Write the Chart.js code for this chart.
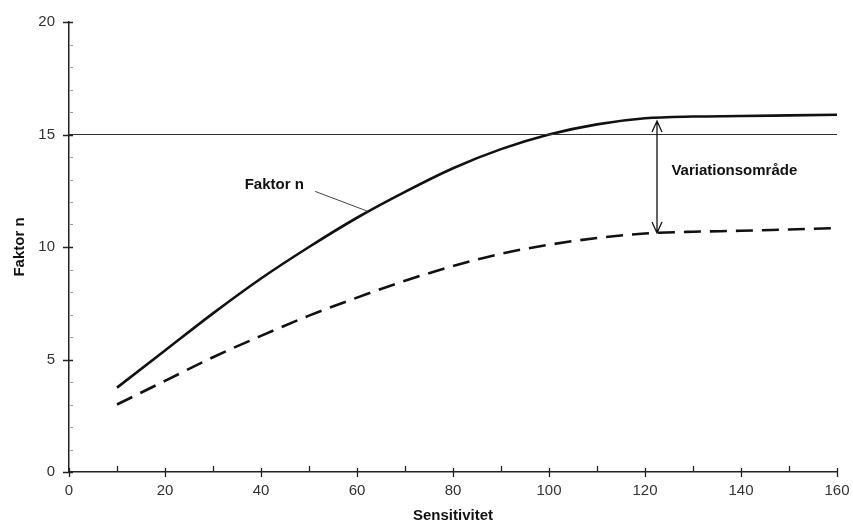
<!DOCTYPE html>
<html>
<head>
<meta charset="utf-8">
<title>Faktor n</title>
<script src="https://cdn.jsdelivr.net/npm/chart.js@4/dist/chart.umd.min.js"></script>
<style>
  html, body { margin: 0; padding: 0; background: #fff; }
  #wrap { width: 853px; height: 525px; position: relative; }
</style>
</head>
<body>
<div id="wrap"><canvas id="chart"></canvas></div>
<script>
// Sensitivity values along the x axis
const sensitivitet = [10, 20, 30, 40, 50, 60, 70, 80, 90, 100, 110, 120, 130, 140, 150, 160];
// Upper bound of factor n (solid curve)
const faktorOevre = [3.75, 5.4, 7.05, 8.6, 10.0, 11.3, 12.45, 13.5, 14.35, 15.0, 15.45, 15.72, 15.8, 15.82, 15.85, 15.88];
// Lower bound of factor n (dashed curve)
const faktorNedre = [3.0, 4.05, 5.1, 6.05, 6.95, 7.75, 8.5, 9.15, 9.7, 10.1, 10.4, 10.6, 10.68, 10.72, 10.78, 10.84];
// Reference level
const graense = 15;
const graenseX = [0, 160];
// Variation range marker: x position, upper and lower value
const omraadeX = 122.5;
const omraadeOevre = 15.6;
const omraadeNedre = 10.62;

const xTicks = [0, 20, 40, 60, 80, 100, 120, 140, 160];
const yTicks = [0, 5, 10, 15, 20];

const toPoints = (xs, ys) => xs.map((x, i) => ({ x: x, y: ys[i] }));

const FONT = "'Liberation Sans', Arial, Helvetica, sans-serif";

// Axis tick marks: major ticks cross the axis line, minor ticks sit inside
const tickMarks = {
  id: 'tickMarks',
  afterDraw(chart) {
    const { ctx, scales: { x, y } } = chart;
    const ax = x.getPixelForValue(0);
    const ay = y.getPixelForValue(0);
    ctx.save();
    ctx.strokeStyle = '#222';
    ctx.lineWidth = 1.3;
    ctx.beginPath();
    for (let v = 0; v <= 160; v += 10) {
      const px = Math.round(x.getPixelForValue(v)) + 0.5;
      if (v % 20 === 0) { ctx.moveTo(px, ay - 4); ctx.lineTo(px, ay + 5); }
      else { ctx.moveTo(px, ay - 6); ctx.lineTo(px, ay); }
    }
    for (let v = 0; v <= 20; v += 5) {
      const py = Math.round(y.getPixelForValue(v)) + 0.5;
      ctx.moveTo(ax - 6, py); ctx.lineTo(ax + 4, py);
    }
    ctx.stroke();
    ctx.strokeStyle = '#999';
    ctx.lineWidth = 1;
    ctx.beginPath();
    for (let v = 1; v < 20; v++) {
      if (v % 5 === 0) continue;
      const py = Math.round(y.getPixelForValue(v)) + 0.5;
      ctx.moveTo(ax, py); ctx.lineTo(ax + 4, py);
    }
    ctx.stroke();
    ctx.restore();
  }
};

// Labels, leader line and the double arrow for the variation range
const annotations = {
  id: 'annotations',
  afterDatasetsDraw(chart) {
    const { ctx, scales: { x, y } } = chart;
    ctx.save();
    // double-headed arrow
    const axp = x.getPixelForValue(omraadeX);
    const top = y.getPixelForValue(omraadeOevre);
    const bot = y.getPixelForValue(omraadeNedre);
    ctx.strokeStyle = '#111';
    ctx.lineWidth = 1.3;
    ctx.beginPath();
    ctx.moveTo(axp, top); ctx.lineTo(axp, bot);
    ctx.moveTo(axp - 5, top + 11); ctx.lineTo(axp, top); ctx.lineTo(axp + 5, top + 11);
    ctx.moveTo(axp - 5, bot - 11); ctx.lineTo(axp, bot); ctx.lineTo(axp + 5, bot - 11);
    ctx.stroke();

    // leader line for the curve label
    ctx.strokeStyle = '#444';
    ctx.lineWidth = 1;
    ctx.beginPath();
    ctx.moveTo(x.getPixelForValue(51.3), y.getPixelForValue(12.47));
    ctx.lineTo(x.getPixelForValue(62.2), y.getPixelForValue(11.59));
    ctx.stroke();

    ctx.fillStyle = '#111';
    ctx.font = 'bold 15px ' + FONT;
    ctx.textBaseline = 'middle';
    ctx.textAlign = 'left';
    ctx.fillText('Variationsområde', x.getPixelForValue(125.5), y.getPixelForValue(13.4));
    ctx.fillText('Faktor n', x.getPixelForValue(36.6), y.getPixelForValue(12.74));
    ctx.restore();
  }
};

new Chart(document.getElementById('chart'), {
  type: 'line',
  data: {
    datasets: [
      {
        data: toPoints(graenseX, graenseX.map(() => graense)),
        borderColor: '#333',
        borderWidth: 1,
        pointRadius: 0,
        tension: 0
      },
      {
        data: toPoints(sensitivitet, faktorOevre),
        borderColor: '#111',
        borderWidth: 2.6,
        pointRadius: 0,
        cubicInterpolationMode: 'monotone'
      },
      {
        data: toPoints(sensitivitet, faktorNedre),
        borderColor: '#111',
        borderWidth: 2.6,
        borderDash: [17, 9],
        pointRadius: 0,
        cubicInterpolationMode: 'monotone'
      }
    ]
  },
  options: {
    responsive: true,
    maintainAspectRatio: false,
    animation: false,
    layout: { padding: { top: 22, right: 16, bottom: 0, left: 0 } },
    plugins: { legend: { display: false }, tooltip: { enabled: false } },
    scales: {
      x: {
        type: 'linear',
        min: 0,
        max: 160,
        afterBuildTicks: (s) => { s.ticks = xTicks.map(v => ({ value: v })); },
        afterFit: (s) => { s.height = 53; s.paddingLeft = 0; s.paddingRight = 0; },
        grid: { display: false, drawTicks: false },
        border: { display: true, color: '#222', width: 1.5 },
        ticks: { padding: 10, color: '#333', font: { family: FONT, size: 15 }, maxRotation: 0 },
        title: {
          display: true,
          text: 'Sensitivitet',
          color: '#111',
          font: { family: FONT, size: 15, weight: 'bold' },
          padding: { top: 0, bottom: 0 }
        }
      },
      y: {
        min: 0,
        max: 20,
        afterBuildTicks: (s) => { s.ticks = yTicks.map(v => ({ value: v })); },
        afterFit: (s) => { s.width = 69; s.paddingTop = 0; s.paddingBottom = 0; },
        grid: { display: false, drawTicks: false },
        border: { display: true, color: '#222', width: 1.5 },
        ticks: { padding: 14, color: '#333', font: { family: FONT, size: 15 } },
        title: {
          display: true,
          text: 'Faktor n',
          color: '#111',
          font: { family: FONT, size: 15, weight: 'bold' },
          padding: { top: 11, bottom: 0 }
        }
      }
    }
  },
  plugins: [tickMarks, annotations]
});
</script>
</body>
</html>
